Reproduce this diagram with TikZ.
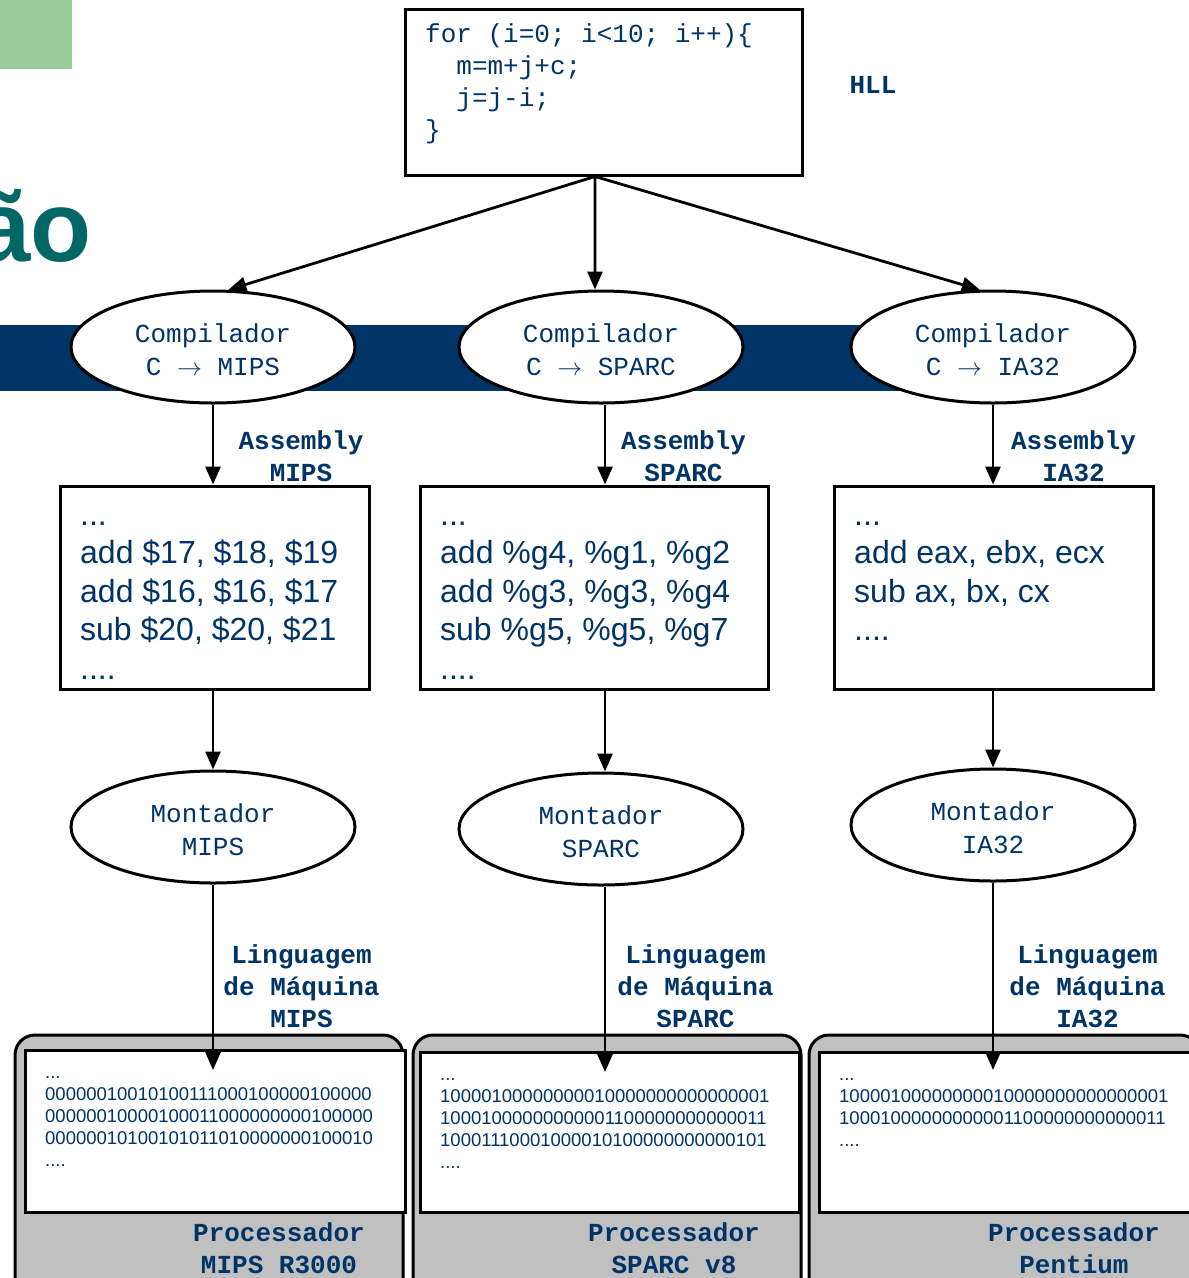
\documentclass[tikz,border=0pt]{standalone}
\usepackage{fontspec}
\setmainfont{Liberation Sans}
\setmonofont{Liberation Mono}
\usetikzlibrary{arrows.meta,shapes.geometric}

\definecolor{azul}{RGB}{0,51,102}
\definecolor{verde}{RGB}{153,204,153}
\definecolor{petroleo}{RGB}{0,102,102}
\definecolor{cinza}{RGB}{192,192,192}

\tikzset{
  seta/.style={-{Triangle[length=18pt,width=15pt]}, line width=2.8pt},
  caixa/.style={draw, line width=3pt, fill=white, inner sep=0pt},
  elipse/.style={draw, ellipse, line width=3pt, fill=white, inner sep=0pt,
    minimum width=284pt, minimum height=112pt, align=center, text=azul,
    text height=57pt, text depth=0pt, font=\ttfamily\fontsize{26}{33}\selectfont},
  proc/.style={draw, line width=3pt, fill=cinza, rounded corners=20pt,
    minimum width=388pt, minimum height=275pt},
  rotulo/.style={anchor=base, align=center, text=azul,
    font=\ttfamily\bfseries\fontsize{26}{32}\selectfont},
  asm/.style={anchor=base west, align=left, inner sep=0pt, text=azul,
    font=\fontsize{32}{38.5}\selectfont},
  bin/.style={anchor=base west, align=left, inner sep=0pt, text=azul,
    font=\fontsize{18.5}{22}\selectfont}
}

\begin{document}
\begin{tikzpicture}[x=1pt, y=-1pt]
    \useasboundingbox (0,0) rectangle (1189,1278);
    \clip (0,0) rectangle (1189,1278);

    % Fundo do slide
    \fill [verde] (0,0) rectangle (72,69);
    \node [anchor=base east, inner sep=0pt, text=petroleo,
           font=\bfseries\fontsize{100}{110}\selectfont] (titulo) at (92,261) {ão};
    \fill [azul] (0,325) rectangle (900,391);

    % HLL (topo)
    \node [caixa, minimum width=397pt, minimum height=166pt] (hll) at (603.5,92) {};
    \node [anchor=base west, align=left, inner sep=0pt, text=azul,
           font=\ttfamily\frenchspacing\fontsize{26}{32}\selectfont] (codigo) at (425,138)
        {for (i=0; i<10; i++)\{\\\ \ m=m+j+c;\\\ \ j=j-i;\\\}};
    \node [rotulo] (rhll) at (873,93) {HLL};

    % Compiladores
    \node [elipse] (c1) at (213,347) {Compilador\\C $\rightarrow$ MIPS};
    \node [elipse] (c2) at (601,347) {Compilador\\C $\rightarrow$ SPARC};
    \node [elipse] (c3) at (993,347) {Compilador\\C $\rightarrow$ IA32};

    % Assembly
    \node [caixa, minimum width=309pt, minimum height=203pt] (a1) at (214.5,587.5) {};
    \node [caixa, minimum width=348pt, minimum height=203pt] (a2) at (594,587.5) {};
    \node [caixa, minimum width=319pt, minimum height=203pt] (a3) at (993.5,587.5) {};
    \node [asm] (t1) at (80,679) {...\\add \$17, \$18, \$19\\add \$16, \$16, \$17\\sub \$20, \$20, \$21\\....};
    \node [asm] (t2) at (440,679) {...\\add \%g4, \%g1, \%g2\\add \%g3, \%g3, \%g4\\sub \%g5, \%g5, \%g7\\....};
    \node [asm] (t3) at (854,640.5) {...\\add eax, ebx, ecx\\sub ax, bx, cx\\....};

    % Montadores
    \node [elipse] (m1) at (213,827) {Montador\\MIPS};
    \node [elipse] (m2) at (601,829) {Montador\\SPARC};
    \node [elipse] (m3) at (993,825) {Montador\\IA32};

    % Processadores (base)
    \node [proc] (p1) at (209,1172.5) {};
    \node [proc] (p2) at (607,1172.5) {};
    \node [proc, minimum width=391pt] (p3) at (1004.5,1172.5) {};
    \node [caixa, minimum width=380pt, minimum height=162pt] (b1) at (215,1131) {};
    \node [caixa, minimum width=379pt, minimum height=160pt] (b2) at (609.5,1132) {};
    \node [caixa, minimum width=401pt, minimum height=160pt] (b3) at (1019.5,1132) {};
    \node [bin] (d1) at (45,1166) {...\\00000010010100111000100000100000\\00000010000100011000000000100000\\00000010100101011010000000100010\\....};
    \node [bin] (d2) at (440,1168) {...\\10000100000000010000000000000001\\10001000000000001100000000000011\\10001110001000010100000000000101\\....};
    \node [bin] (d3) at (839,1146) {...\\10000100000000010000000000000001\\10001000000000001100000000000011\\....};
    \node [rotulo] (rp1) at (279,1273) {Processador\\MIPS R3000};
    \node [rotulo] (rp2) at (674,1273) {Processador\\SPARC v8};
    \node [rotulo] (rp3) at (1074,1273) {Processador\\Pentium};

    % Rotulos das setas
    \node [rotulo] (ra1) at (301,481) {Assembly\\MIPS};
    \node [rotulo] (ra2) at (683.5,481) {Assembly\\SPARC};
    \node [rotulo] (ra3) at (1073.5,481) {Assembly\\IA32};
    \node [rotulo] (rl1) at (301.5,1027) {Linguagem\\de Máquina\\MIPS};
    \node [rotulo] (rl2) at (695.5,1027) {Linguagem\\de Máquina\\SPARC};
    \node [rotulo] (rl3) at (1087.5,1027) {Linguagem\\de Máquina\\IA32};

    % Setas
    \coordinate (fonte) at ([xshift=-8.5pt]hll.south);
    \coordinate (col1) at (213,0);
    \coordinate (col2) at (605,0);
    \coordinate (col3) at (993,0);
    \coordinate (e1) at (213,1070);
    \coordinate (e2) at (605,1072);
    \coordinate (e3) at (993,1070);
    \draw [seta] (fonte) -- (c1.75);
    \draw [seta] (fonte) -- (c2.96);
    \draw [seta] (fonte) -- (c3.103);
    \draw [seta] (c1.south -| col1) -- (a1.north -| col1);
    \draw [seta] (c2.south -| col2) -- (a2.north -| col2);
    \draw [seta] (c3.south -| col3) -- (a3.north -| col3);
    \draw [seta] (a1.south -| col1) -- (m1.north -| col1);
    \draw [seta] (a2.south -| col2) -- (m2.north -| col2);
    \draw [seta] (a3.south -| col3) -- (m3.north -| col3);
    \draw [seta] (m1.south -| col1) -- (e1);
    \draw [seta] (m2.south -| col2) -- (e2);
    \draw [seta] (m3.south -| col3) -- (e3);
\end{tikzpicture}
\end{document}
